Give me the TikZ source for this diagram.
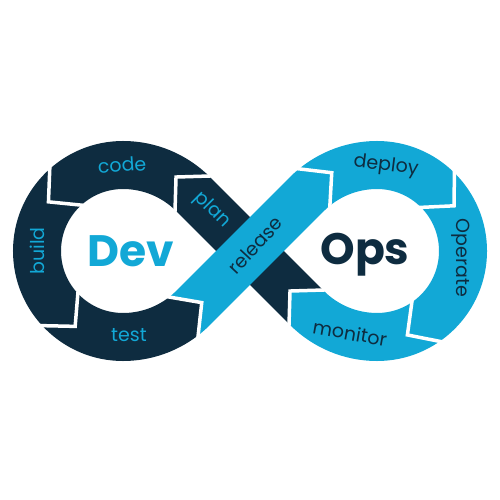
\documentclass[tikz,border=0pt]{standalone}
\usepackage{fontspec}
\setmainfont{Poppins}
\usetikzlibrary{calc}
\definecolor{navy}{HTML}{0E2C40}
\definecolor{sky}{HTML}{12A8D6}
\newcommand{\gapmark}[2]{\draw[gapline,shift={(#1)},rotate=#2](0,25.5)--(24,0)--(0,-25.5);}
\newcommand{\tipfill}[3]{\fill[#3,shift={(#1)},rotate=#2](-2,23.5)--(0,24)--(24,0)--(0,-24)--(-2,-23.5)--cycle;}

\begin{document}
\begin{tikzpicture}[x=1pt,y=1pt,
  band/.style={line width=48pt},
  gapline/.style={white,line width=3.5pt},
  lab/.style={font=\fontsize{19}{19}\selectfont},
  big/.style={font=\fontsize{44}{44}\selectfont\bfseries}]
\useasboundingbox(0,0)rectangle(500,500);
\coordinate(C1)at(123,249);\coordinate(C2)at(377,249);
\coordinate(P1)at(193,306);\coordinate(P2)at(193,192);
\coordinate(P3)at(307,306);\coordinate(P4)at(307,192);
% the two halves of the loop
\draw[band,navy](P4)--(P1)arc[start angle=45,end angle=90,radius=99]
  arc[start angle=90,end angle=270,radius=86]
  arc[start angle=270,end angle=307,radius=99]coordinate(Jtr);
\draw[band,sky](Jtr)arc[start angle=307,end angle=315,radius=99]--(P3)
  arc[start angle=135,end angle=90,radius=99]
  arc[start angle=90,end angle=-90,radius=86]
  arc[start angle=270,end angle=225,radius=99];
% junctions between the steps
\coordinate(Jcb)at($(C1)+(131:86)$);
\coordinate(Jbt)at($(C1)+(222:86)$);
\coordinate(Jrd)at($(377,236)+(130:99)$);
\coordinate(Jdo)at($(C2)+(46:86)$);
\coordinate(Jom)at($(C2)+(-54.5:86)$);
\tipfill{Jtr}{37}{navy}
\tipfill{P4}{135}{sky}
\gapmark{P1}{135}\gapmark{Jcb}{221}\gapmark{Jbt}{312}\gapmark{Jtr}{37}
\gapmark{Jrd}{40}\gapmark{Jdo}{-44}\gapmark{Jom}{-144.5}\gapmark{P4}{135}
% labels
\node[lab,sky,rotate=4](code)at(122,335){code};
\node[lab,sky,rotate=90](build)at(37,249){build};
\node[lab,sky](test)at(129,165){test};
\node[lab,sky,rotate=-45](plan)at(212,290){plan};
\node[lab,navy,rotate=47](release)at(255,255){release};
\node[lab,navy,rotate=-7](deploy)at(386,334){deploy};
\node[lab,navy,rotate=-90](operate)at(461,242){Operate};
\node[lab,navy,rotate=-10](monitor)at(350,167){monitor};
\node[big,sky,anchor=base](dev)at(131,233){Dev};
\node[big,navy,anchor=base](ops)at(365,235){Ops};
\end{tikzpicture}
\end{document}
